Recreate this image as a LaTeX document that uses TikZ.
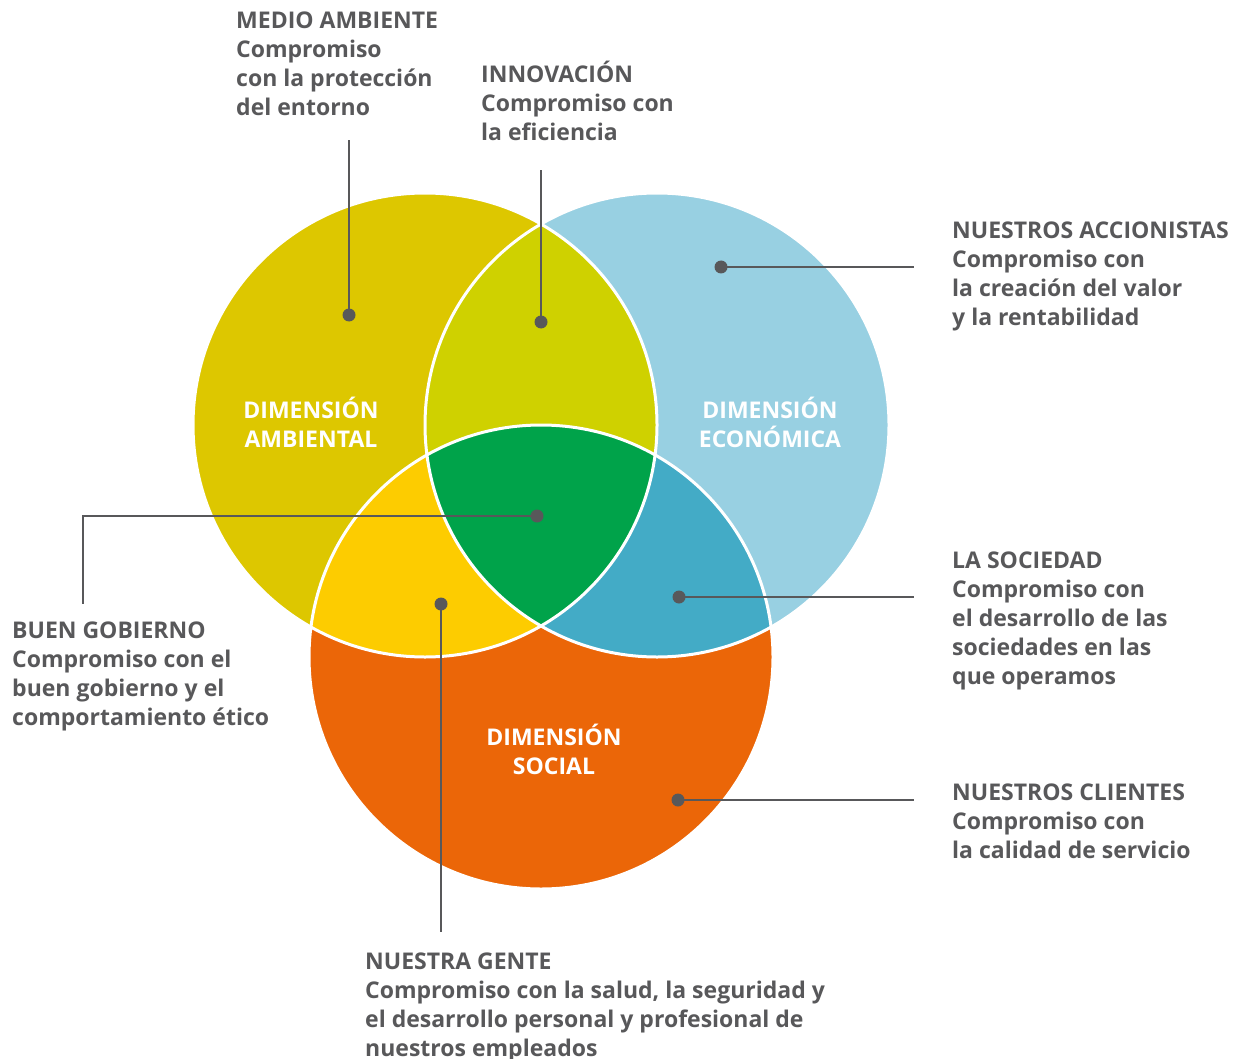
\documentclass[tikz,border=0pt]{standalone}
\usepackage{fontspec}
\setmainfont{Open Sans}
\definecolor{txtgray}{RGB}{88,88,90}
\definecolor{ambcol}{RGB}{221,199,0}
\definecolor{ecocol}{RGB}{152,208,226}
\definecolor{soccol}{RGB}{235,102,8}
\definecolor{aecol}{RGB}{207,209,0}
\definecolor{ascol}{RGB}{253,204,0}
\definecolor{escol}{RGB}{67,171,198}
\definecolor{allcol}{RGB}{0,163,74}
\tikzset{
  txt/.style={anchor=north west, inner sep=0pt, align=left, text=txtgray,
    font=\fontsize{23}{29}\selectfont\bfseries},
  dimtxt/.style={inner sep=0pt, align=center, text=white,
    font=\fontsize{23}{29}\selectfont\bfseries},
  dot/.style={circle, fill=txtgray, inner sep=0pt, minimum size=13pt},
  leader/.style={draw=txtgray, line width=2pt},
  rim/.style={draw=white, line width=3pt}
}
\begin{document}
\begin{tikzpicture}[x=1pt,y=-1pt]
\useasboundingbox (0,0) rectangle (1247,1059);
\coordinate (cA) at (425,425);
\coordinate (cE) at (657,425);
\coordinate (cS) at (541,657);
% circles
\fill[ambcol] (cA) circle (232pt);
\fill[ecocol] (cE) circle (232pt);
\fill[soccol] (cS) circle (232pt);
\begin{scope}
  \clip (cE) circle (232pt);
  \fill[escol] (cS) circle (232pt);
\end{scope}
\begin{scope}
  \clip (cA) circle (232pt);
  \fill[aecol] (cE) circle (232pt);
  \fill[ascol] (cS) circle (232pt);
  \clip (cE) circle (232pt);
  \fill[allcol] (cS) circle (232pt);
\end{scope}
\draw[rim] (cA) circle (232pt);
\draw[rim] (cE) circle (232pt);
\draw[rim] (cS) circle (232pt);
% dimension labels
\node[dimtxt] (dimA) at (311,422) {DIMENSIÓN\\AMBIENTAL};
\node[dimtxt] (dimE) at (770,422) {DIMENSIÓN\\ECONÓMICA};
\node[dimtxt] (dimS) at (554,749) {DIMENSIÓN\\SOCIAL};
% text blocks
\node[txt] (medio) at (236,8) {\strut MEDIO AMBIENTE\\Compromiso\\con la protección\\del entorno};
\node[txt] (innov) at (481,61) {\strut INNOVACIÓN\\Compromiso con\\la eficiencia};
\node[txt] (accion) at (952,218) {\strut NUESTROS ACCIONISTAS\\Compromiso con\\la creación del valor\\y la rentabilidad};
\node[txt] (socie) at (952,548) {\strut LA SOCIEDAD\\Compromiso con\\el desarrollo de las\\sociedades en las\\que operamos};
\node[txt] (client) at (952,780) {\strut NUESTROS CLIENTES\\Compromiso con\\la calidad de servicio};
\node[txt] (buen) at (12,618) {\strut BUEN GOBIERNO\\Compromiso con el\\buen gobierno y el\\comportamiento ético};
\node[txt] (gente) at (365,949) {\strut NUESTRA GENTE\\Compromiso con la salud, la seguridad y\\el desarrollo personal y profesional de\\nuestros empleados};
% dots and leaders
\node[dot] (dMedio) at (349,315) {};
\node[dot] (dInnov) at (541,322) {};
\node[dot] (dAccion) at (721,267) {};
\node[dot] (dSocie) at (679,597) {};
\node[dot] (dClient) at (678,800) {};
\node[dot] (dBuen) at (537,516) {};
\node[dot] (dGente) at (441,604) {};
\coordinate (eMedio) at (349,140);
\coordinate (eInnov) at (541,170);
\coordinate (eAccion) at (914,267);
\coordinate (eSocie) at (914,597);
\coordinate (eClient) at (914,800);
\coordinate (eBuen) at (83,604);
\coordinate (eGente) at (441,932);
\draw[leader] (dMedio.center) -- (eMedio);
\draw[leader] (dInnov.center) -- (eInnov);
\draw[leader] (dAccion.center) -- (eAccion);
\draw[leader] (dSocie.center) -- (eSocie);
\draw[leader] (dClient.center) -- (eClient);
\draw[leader] (dBuen.center) -| (eBuen);
\draw[leader] (dGente.center) -- (eGente);
\end{tikzpicture}
\end{document}
